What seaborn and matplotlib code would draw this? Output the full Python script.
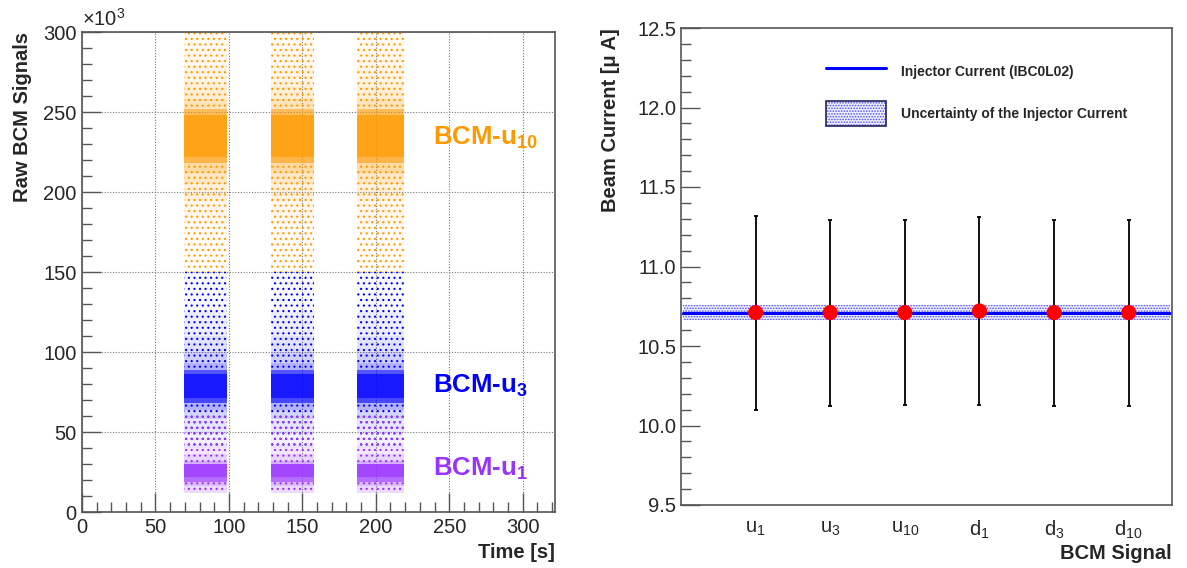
import matplotlib
matplotlib.use("Agg")
import matplotlib.pyplot as plt
import seaborn as sns
import pandas as pd
from matplotlib.ticker import MultipleLocator, FormatStrFormatter
from matplotlib.lines import Line2D
from matplotlib.patches import Patch
from matplotlib.legend_handler import HandlerTuple
from matplotlib.colors import to_rgba

# ---------------- data ----------------
# Left panel: beam-on periods (time windows, s)
burst_start = [69.5, 129.0, 187.5]
burst_end = [98.5, 158.0, 219.5]

# Vertical density profile of the raw signals (edges in units of 10^3, relative density)
u10_edges = [150, 165, 180, 195, 205, 212, 218, 222, 248, 252, 258, 266, 278, 290, 300]
u10_density = [0.05, 0.08, 0.12, 0.22, 0.38, 0.60, 0.80, 1.00, 0.70, 0.45, 0.28, 0.18, 0.12, 0.10]
u3_edges = [40, 50, 58, 64, 68, 71, 86, 89, 93, 100, 110, 125, 150]
u3_density = [0.06, 0.14, 0.28, 0.50, 0.80, 1.00, 0.75, 0.50, 0.32, 0.20, 0.12, 0.05]
u1_edges = [12, 16, 19, 22, 30, 32, 36, 42, 60]
u1_density = [0.30, 0.55, 0.80, 1.00, 0.65, 0.35, 0.18, 0.05]

signal_labels = ["BCM-u$_{\\mathbf{10}}$", "BCM-u$_{\\mathbf{3}}$", "BCM-u$_{\\mathbf{1}}$"]
signal_label_y = [234, 79, 27]
signal_colors = ["#ff9900", "#0000ff", "#9933ff"]

# Right panel
bcm_signals = ["u$_{1}$", "u$_{3}$", "u$_{10}$", "d$_{1}$", "d$_{3}$", "d$_{10}$"]
beam_current = [10.71, 10.71, 10.71, 10.72, 10.71, 10.71]
beam_current_err = [0.61, 0.585, 0.58, 0.59, 0.585, 0.585]
injector_current = 10.71
injector_current_err = 0.045

# ---------------- style ----------------
sns.set_theme(style="white")
plt.rcParams["font.family"] = ["Liberation Sans", "DejaVu Sans"]
plt.rcParams["mathtext.fontset"] = "custom"
plt.rcParams["mathtext.rm"] = "Liberation Sans"
plt.rcParams["mathtext.it"] = "Liberation Sans:italic"
plt.rcParams["mathtext.bf"] = "Liberation Sans:bold"
plt.rcParams["hatch.linewidth"] = 0.8

fig = plt.figure(figsize=(11.87, 5.68), dpi=100)
axL = fig.add_axes([82 / 1187, 1 - 512 / 568, (555 - 82) / 1187, (512 - 32) / 568])
axR = fig.add_axes([681 / 1187, 1 - 505 / 568, (1172 - 681) / 1187, (505 - 28) / 568])

frame_color = "#555555"
for ax in (axL, axR):
    for s in ax.spines.values():
        s.set_color(frame_color)
        s.set_linewidth(1.2)

# ---------------- left panel ----------------
profiles = [(u10_edges, u10_density), (u3_edges, u3_density), (u1_edges, u1_density)]
for (edges, dens), col in zip(profiles, signal_colors):
    for lo, hi, d in zip(edges[:-1], edges[1:], dens):
        if d >= 0.7:
            fc, hatch = to_rgba(col, 0.9 * d), None
        else:
            fc, hatch = to_rgba(col, 0.6 * d), "..."
        for t0, t1 in zip(burst_start, burst_end):
            axL.fill_between([t0, t1], [lo * 1e3] * 2, [hi * 1e3] * 2,
                             facecolor=fc, edgecolor=to_rgba(col, 1.0),
                             hatch=hatch, linewidth=0)

axL.set_xlim(0, 322)
axL.set_ylim(0, 300e3)
axL.xaxis.set_major_locator(MultipleLocator(50))
axL.xaxis.set_minor_locator(MultipleLocator(10))
axL.yaxis.set_major_locator(MultipleLocator(50e3))
axL.yaxis.set_minor_locator(MultipleLocator(10e3))
axL.set_yticklabels([f"{int(v / 1e3)}" for v in axL.get_yticks()])
axL.grid(True, which="major", linestyle=(0, (1, 1.5)), color="#777777", linewidth=0.8)
axL.tick_params(axis="both", which="major", direction="in", length=14, width=1.0,
                color=frame_color, labelsize=14.5, pad=4)
axL.tick_params(axis="both", which="minor", direction="in", length=7, width=1.0,
                color=frame_color)
axL.tick_params(axis="y", which="both", left=True)
axL.tick_params(axis="x", which="both", bottom=True)
axL.set_ylabel("Raw BCM Signals", fontsize=14.5, fontweight="bold", loc="top", labelpad=8)
axL.set_xlabel("Time [s]", fontsize=14.5, fontweight="bold", loc="right", labelpad=5)
axL.text(0.0, 1.005, "×10$^{3}$", transform=axL.transAxes, fontsize=14.5,
         ha="left", va="bottom")
for lab, ly, col in zip(signal_labels, signal_label_y, signal_colors):
    axL.text(239, ly * 1e3, lab, color=col, fontsize=18.5, fontweight="bold",
             ha="left", va="center")

# ---------------- right panel ----------------
df = pd.DataFrame({"pos": range(1, len(bcm_signals) + 1),
                   "current": beam_current, "err": beam_current_err})
axR.set_xlim(0, 6.58)
axR.set_ylim(9.5, 12.5)

band_face = "#f2f2ff"
band_hatch = "#4d4dff"
axR.axhspan(injector_current - injector_current_err, injector_current + injector_current_err,
            xmin=0.005, xmax=0.995, facecolor=band_face, edgecolor=band_hatch,
            hatch="......", linewidth=0, zorder=1)
axR.axhline(injector_current, xmin=0.005, xmax=0.995, color="#0000ff", linewidth=2.2, zorder=2)
axR.errorbar(df["pos"], df["current"], yerr=df["err"], fmt="none", ecolor="black",
             elinewidth=1.3, capsize=1.5, capthick=1.3, zorder=3)
sns.scatterplot(data=df, x="pos", y="current", color="#ff0000", s=120,
                edgecolor="none", zorder=4, ax=axR, legend=False)

axR.set_xticks(df["pos"])
axR.set_xticklabels(bcm_signals, fontsize=14.5)
axR.yaxis.set_major_locator(MultipleLocator(0.5))
axR.yaxis.set_minor_locator(MultipleLocator(0.1))
axR.yaxis.set_major_formatter(FormatStrFormatter("%.1f"))
axR.tick_params(axis="y", which="major", direction="in", length=14, width=1.0,
                color=frame_color, labelsize=14.5, left=True)
axR.tick_params(axis="y", which="minor", direction="in", length=7, width=1.0,
                color=frame_color, left=True)
axR.tick_params(axis="x", length=0, pad=10)
axR.set_ylabel("Beam Current [μ A]", fontsize=14.5, fontweight="bold", loc="top", labelpad=12)
axR.set_xlabel("BCM Signal", fontsize=14.5, fontweight="bold", loc="right", labelpad=2)

box_fill = Patch(facecolor=band_face, edgecolor=band_hatch, hatch="......", linewidth=0)
box_edge = Patch(facecolor="none", edgecolor="#222255", linewidth=1.2)
handles = [Line2D([0], [0], color="#0000ff", linewidth=2.2), (box_fill, box_edge)]
axR.legend(handles, ["Injector Current (IBC0L02)", "Uncertainty of the Injector Current"],
           handler_map={tuple: HandlerTuple(ndivide=1, pad=0)},
           loc="upper left", bbox_to_anchor=(0.27, 0.96), frameon=False,
           prop={"weight": "bold", "size": 10}, handlelength=4.3, handleheight=2.4,
           labelspacing=1.2, handletextpad=1.1)

fig.savefig("out.png", dpi=100)
